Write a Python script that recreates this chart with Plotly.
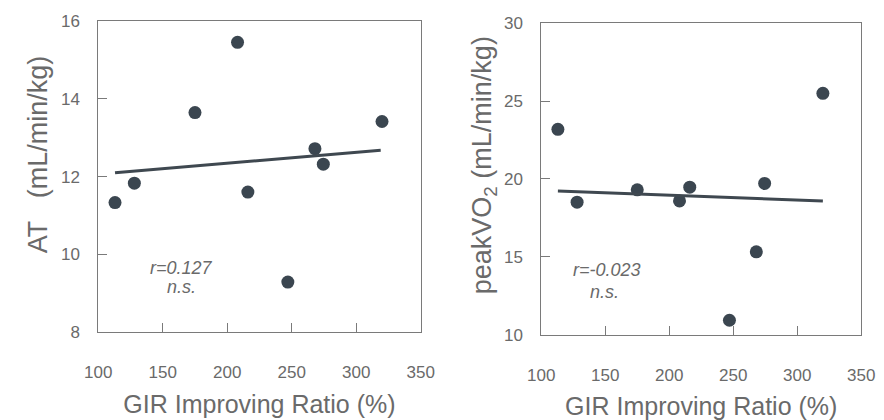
import plotly.graph_objects as go

# ---- data ----
gir_ratio = [113, 128, 175, 208, 216, 247, 268, 274.5, 320]
at_values = [11.33, 11.83, 13.65, 15.46, 11.6, 9.28, 12.72, 12.32, 13.42]
peak_vo2 = [23.19, 18.51, 19.3, 18.59, 19.47, 10.92, 15.32, 19.71, 25.5]

at_fit_x = [113, 319]
at_fit_y = [12.1, 12.68]
vo2_fit_x = [113, 320]
vo2_fit_y = [19.22, 18.59]

x_ticks = [100, 150, 200, 250, 300, 350]
at_ticks = [8, 10, 12, 14, 16]
vo2_ticks = [10, 15, 20, 25, 30]

at_stats = ["r=0.127", "n.s."]
vo2_stats = ["r=-0.023", "n.s."]

# ---- styles ----
FONT = "Liberation Sans, Arial, Helvetica, sans-serif"
MARK = "#3b4650"
LINE = "#3f4850"
TXT = "#6a6a6a"
FRAME = "#7a7a7a"

fig = go.Figure()

fig.add_trace(go.Scatter(x=gir_ratio, y=at_values, mode="markers",
                         marker=dict(size=13, color=MARK), xaxis="x", yaxis="y",
                         showlegend=False))
fig.add_trace(go.Scatter(x=at_fit_x, y=at_fit_y, mode="lines",
                         line=dict(color=LINE, width=3), xaxis="x", yaxis="y",
                         showlegend=False))
fig.add_trace(go.Scatter(x=gir_ratio, y=peak_vo2, mode="markers",
                         marker=dict(size=13, color=MARK), xaxis="x2", yaxis="y2",
                         showlegend=False))
fig.add_trace(go.Scatter(x=vo2_fit_x, y=vo2_fit_y, mode="lines",
                         line=dict(color=LINE, width=3), xaxis="x2", yaxis="y2",
                         showlegend=False))

xcommon = dict(range=[100, 350], tickvals=x_ticks, ticks="inside", ticklen=9,
               tickcolor=FRAME, showline=True, linecolor=FRAME, linewidth=1,
               mirror=True, showgrid=False, zeroline=False,
               tickfont=dict(family=FONT, size=17, color=TXT),
               ticklabelstandoff=25,
               title=dict(text="GIR Improving Ratio (%)", standoff=14,
                          font=dict(family=FONT, size=25, color=TXT)))
ycommon = dict(ticks="inside", ticklen=9, tickcolor=FRAME, showline=True,
               linecolor=FRAME, linewidth=1, mirror=True, showgrid=False,
               zeroline=False, ticklabelstandoff=14,
               tickfont=dict(family=FONT, size=17, color=TXT))

fig.update_layout(
    width=884, height=420,
    margin=dict(l=0, r=0, t=0, b=0),
    paper_bgcolor="white", plot_bgcolor="white",
    xaxis=dict(domain=[87/884, 420/884], anchor="y", **xcommon),
    yaxis=dict(domain=[1-338/420, 1-13/420], anchor="x", range=[8, 16],
               tickvals=at_ticks, **ycommon),
    xaxis2=dict(domain=[544.5/884, 875/884], anchor="y2", **xcommon),
    yaxis2=dict(domain=[1-341/420, 1-15/420], anchor="x2", range=[10, 30],
                tickvals=vo2_ticks, **ycommon),
)

annots = [
    dict(text=at_stats[0], x=164.5, y=9.64, xref="x", yref="y"),
    dict(text=at_stats[1], x=164.5, y=9.14, xref="x", yref="y"),
    dict(text=vo2_stats[0], x=151, y=14.17, xref="x2", yref="y2"),
    dict(text=vo2_stats[1], x=149.5, y=12.76, xref="x2", yref="y2"),
]
for a in annots:
    fig.add_annotation(**a, showarrow=False,
                       font=dict(family=FONT, size=18, color=TXT),
                       xanchor="center", yanchor="middle")
    fig.layout.annotations[-1].text = "<i>" + a["text"] + "</i>"

# y-axis titles (positioned as in the reference)
fig.add_annotation(text="AT&nbsp;&nbsp;&nbsp;(mL/min/kg)", textangle=-90,
                   x=25/884, y=1-152/420, xref="paper", yref="paper",
                   showarrow=False, xanchor="center", yanchor="middle",
                   font=dict(family=FONT, size=27, color=TXT))
fig.add_annotation(text="peakVO<sub>2</sub> (mL/min/kg)", textangle=-90,
                   x=485/884, y=1-164/420, xref="paper", yref="paper",
                   showarrow=False, xanchor="center", yanchor="middle",
                   font=dict(family=FONT, size=27, color=TXT))

fig.write_html("out.html")
